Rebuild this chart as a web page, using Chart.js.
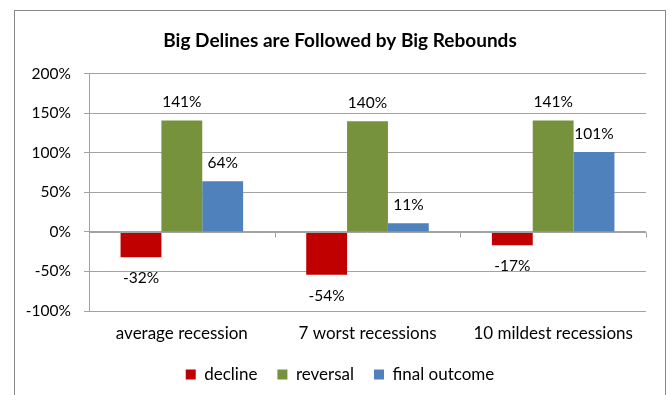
<!DOCTYPE html>
<html><head><meta charset="utf-8">
<script src="https://cdn.jsdelivr.net/npm/chart.js@4"></script>
<style>html,body{margin:0;padding:0;background:#fff;} canvas{display:block}</style>
</head><body>
<canvas id="c" width="671" height="395" style="width:671px;height:395px"></canvas>
<script>
const categories = ['average recession', '7 worst recessions', '10 mildest recessions'];
const seriesNames = ['decline', 'reversal', 'final outcome'];
const declineValues = [-32, -54, -17];
const reversalValues = [141, 140, 141];
const finalOutcomeValues = [64, 11, 101];
const yMin = -100, yMax = 200, yStep = 50;
const titleText = 'Big Delines are Followed by Big Rebounds';

const FONT = 'Lato, "Open Sans", sans-serif';
const GRID = '#a3a3a3';

const framePlugin = {
  id: 'frame',
  beforeDraw(chart) {
    const ctx = chart.ctx;
    ctx.save();
    ctx.fillStyle = '#fff';
    ctx.fillRect(0, 0, chart.width, chart.height);
    ctx.strokeStyle = '#888888';
    ctx.lineWidth = 1;
    ctx.strokeRect(14.5, 10.5, 651, 420);
    ctx.restore();
  }
};

const zeroTicksPlugin = {
  id: 'zeroTicks',
  afterDatasetsDraw(chart) {
    const x = chart.scales.x, y = chart.scales.y, ctx = chart.ctx;
    const y0 = Math.round(y.getPixelForValue(0)) + 0.5;
    ctx.save();
    ctx.strokeStyle = GRID;
    ctx.lineWidth = 1;
    ctx.beginPath();
    ctx.moveTo(chart.chartArea.left, y0);
    ctx.lineTo(chart.chartArea.right, y0);
    for (let i = 0; i < categories.length; i++) {
      let bx = i < categories.length - 1
        ? (x.getPixelForValue(i) + x.getPixelForValue(i + 1)) / 2
        : chart.chartArea.right;
      bx = Math.round(bx) + 0.5;
      ctx.moveTo(bx, y0);
      ctx.lineTo(bx, y0 + 5);
    }
    ctx.stroke();
    ctx.restore();
  }
};

const labelPlugin = {
  id: 'valueLabels',
  afterDatasetsDraw(chart) {
    const ctx = chart.ctx;
    ctx.save();
    ctx.font = '15.5px ' + FONT;
    ctx.fillStyle = '#000';
    ctx.textAlign = 'center';
    ctx.textBaseline = 'middle';
    chart.data.datasets.forEach((ds, di) => {
      const meta = chart.getDatasetMeta(di);
      meta.data.forEach((el, i) => {
        const v = ds.data[i];
        const ty = v >= 0 ? el.y - 18 : el.y + 21;
        ctx.fillText(v + '%', el.x, ty);
      });
    });
    ctx.restore();
  }
};

new Chart(document.getElementById('c'), {
  type: 'bar',
  data: {
    labels: categories,
    datasets: [
      { label: seriesNames[0], data: declineValues, backgroundColor: '#c00000' },
      { label: seriesNames[1], data: reversalValues, backgroundColor: '#76923c' },
      { label: seriesNames[2], data: finalOutcomeValues, backgroundColor: '#4f81bd' }
    ]
  },
  options: {
    responsive: false,
    devicePixelRatio: 1,
    animation: false,
    layout: { padding: { left: 9, right: 0, top: 0, bottom: 2 } },
    datasets: { bar: { barPercentage: 1, categoryPercentage: 0.66 } },
    scales: {
      x: {
        afterFit(s) { s.height = 35; },
        grid: { display: false, drawTicks: false },
        border: { display: false },
        ticks: { color: '#000', font: { family: FONT, size: 17 }, padding: 12 }
      },
      y: {
        min: yMin, max: yMax,
        afterFit(s) { s.width = 80; },
        grid: { color: GRID, tickLength: 5 },
        border: { color: GRID },
        ticks: { stepSize: yStep, color: '#000', font: { family: FONT, size: 15.5 }, padding: 13,
          callback: v => v + '%' }
      },
      yPad: {
        type: 'linear', position: 'right', display: true,
        afterFit(s) { s.width = 25; },
        grid: { display: false, drawTicks: false },
        border: { display: false },
        ticks: { display: false }
      }
    },
    plugins: {
      title: {
        display: true, text: titleText, color: '#000',
        font: { family: FONT, size: 19, weight: 'bold' },
        padding: { top: 29, bottom: 22 }
      },
      legend: {
        position: 'bottom',
        labels: { color: '#000', font: { family: FONT, size: 17 }, boxWidth: 10, boxHeight: 10, padding: 20 }
      },
      tooltip: { enabled: false }
    }
  },
  plugins: [framePlugin, zeroTicksPlugin, labelPlugin]
});
</script>
</body></html>
